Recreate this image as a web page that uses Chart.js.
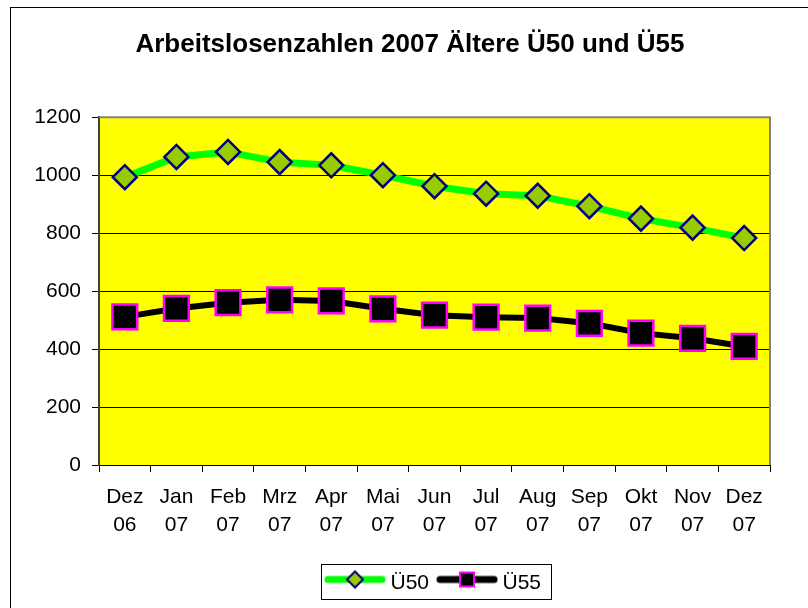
<!DOCTYPE html>
<html>
<head>
<meta charset="utf-8">
<script src="https://cdn.jsdelivr.net/npm/chart.js@4.4.1/dist/chart.umd.min.js"></script>
<style>
html,body{margin:0;padding:0;background:#fff;}
#wrap{width:808px;height:608px;position:relative;}
</style>
</head>
<body>
<div id="wrap"><canvas id="c"></canvas></div>
<script>
const categories = [["Dez","06"],["Jan","07"],["Feb","07"],["Mrz","07"],["Apr","07"],["Mai","07"],["Jun","07"],["Jul","07"],["Aug","07"],["Sep","07"],["Okt","07"],["Nov","07"],["Dez","07"]];
const seriesU50 = [993, 1063, 1080, 1045, 1034, 1000, 962, 936, 929, 893, 850, 819, 783];
const seriesU55 = [511, 540, 560, 570, 566, 539, 517, 510, 507, 489, 455, 437, 409];
const seriesNames = ["Ü50", "Ü55"];
const titleText = "Arbeitslosenzahlen 2007 Ältere Ü50 und Ü55";
const yTicks = [0, 200, 400, 600, 800, 1000, 1200];

const FONT = "Arial, 'Liberation Sans', sans-serif";

function legendImage(lineColor, marker) {
  const cv = document.createElement('canvas');
  cv.width = 62; cv.height = 28;
  const g = cv.getContext('2d');
  const cy = 10;
  g.lineCap = 'round';
  g.strokeStyle = lineColor;
  g.lineWidth = 7;
  g.beginPath(); g.moveTo(4, cy); g.lineTo(58, cy); g.stroke();
  g.lineWidth = 2;
  if (marker === 'diamond') {
    g.fillStyle = '#99CC00'; g.strokeStyle = '#000080';
    g.beginPath();
    g.moveTo(31, cy - 8); g.lineTo(39, cy); g.lineTo(31, cy + 8); g.lineTo(23, cy); g.closePath();
    g.fill(); g.stroke();
  } else {
    g.fillStyle = '#000000'; g.strokeStyle = '#FF00FF';
    g.fillRect(24, cy - 7, 14, 14);
    g.strokeRect(24, cy - 7, 14, 14);
  }
  return cv;
}
const imgU50 = legendImage('#00FF00', 'diamond');
const imgU55 = legendImage('#000000', 'square');

const framePlugin = {
  id: 'framePlugin',
  beforeDraw(chart) {
    const {ctx, chartArea: a} = chart;
    ctx.save();
    ctx.fillStyle = '#FFFFFF';
    ctx.fillRect(0, 0, chart.width, chart.height);
    ctx.strokeStyle = '#000000';
    ctx.lineWidth = 1;
    ctx.strokeRect(10.5, 7.5, 1000, 1000);
    ctx.fillStyle = '#FFFF00';
    ctx.fillRect(a.left, a.top, a.right - a.left, a.bottom - a.top);
    ctx.restore();
  },
  beforeDatasetsDraw(chart) {
    const {ctx, chartArea: a} = chart;
    ctx.save();
    ctx.strokeStyle = '#808080';
    ctx.lineWidth = 2;
    ctx.beginPath();
    ctx.moveTo(a.left, a.top);
    ctx.lineTo(a.right, a.top);
    ctx.lineTo(a.right, a.bottom);
    ctx.stroke();
    ctx.restore();
  },
  afterLayout(chart) {
    const lg = chart.legend;
    if (lg && lg.lineWidths) {
      const pad = lg.options.labels.padding;
      const cur = (lg.left + pad + lg.right - lg.lineWidths[0]) / 2;
      const dx = 330 - cur;
      lg.left += dx; lg.right += dx;
    }
    const tb = chart.titleBlock;
    if (tb) {
      const dx = 410 - (tb.left + tb.right) / 2;
      tb.left += dx; tb.right += dx;
    }
  },
  afterDraw(chart) {
    const lg = chart.legend;
    if (!lg || !lg.legendHitBoxes || !lg.legendHitBoxes.length) return;
    const hb = lg.legendHitBoxes;
    const first = hb[0], last = hb[hb.length - 1];
    const {ctx} = chart;
    ctx.save();
    ctx.strokeStyle = '#000000';
    ctx.lineWidth = 1;
    const l = Math.round(first.left - 9) + 0.5;
    const r = Math.round(last.left + last.width + 10) + 0.5;
    const t = Math.round(first.top - 9) + 0.5;
    const b = Math.round(first.top + first.height + 5) + 0.5;
    ctx.strokeRect(l, t, r - l, b - t);
    ctx.restore();
  }
};

new Chart(document.getElementById('c'), {
  type: 'line',
  data: {
    labels: categories,
    datasets: [
      {
        label: seriesNames[0],
        data: seriesU50,
        borderColor: '#00FF00',
        borderWidth: 7,
        tension: 0,
        pointStyle: 'rectRot',
        pointRadius: 12,
        pointHoverRadius: 12,
        pointBackgroundColor: '#99CC00',
        pointBorderColor: '#000080',
        pointBorderWidth: 2.5
      },
      {
        label: seriesNames[1],
        data: seriesU55,
        borderColor: '#000000',
        borderWidth: 6,
        tension: 0,
        pointStyle: 'rect',
        pointRadius: 17.5,
        pointHoverRadius: 17.5,
        pointBackgroundColor: '#000000',
        pointBorderColor: '#FF00FF',
        pointBorderWidth: 2.5
      }
    ]
  },
  options: {
    responsive: true,
    maintainAspectRatio: false,
    animation: false,
    events: [],
    layout: { padding: { left: 0, right: 38, top: 0, bottom: 4 } },
    plugins: {
      title: {
        display: true,
        text: titleText,
        color: '#000000',
        font: { family: FONT, size: 26, weight: 'bold' },
        padding: { top: 29, bottom: 57 }
      },
      legend: {
        display: true,
        position: 'bottom',
        align: 'center',
        labels: {
          color: '#000000',
          font: { family: FONT, size: 21 },
          padding: 13,
          usePointStyle: true,
          pointStyleWidth: 50,
          generateLabels(chart) {
            return chart.data.datasets.map((ds, i) => ({
              text: ds.label,
              pointStyle: i === 0 ? imgU50 : imgU55,
              fillStyle: ds.borderColor,
              strokeStyle: ds.borderColor,
              lineWidth: 0,
              hidden: false,
              datasetIndex: i
            }));
          }
        }
      },
      tooltip: { enabled: false }
    },
    scales: {
      x: {
        type: 'category',
        offset: true,
        afterFit(s) { s.height = 95; },
        grid: {
          display: true,
          drawOnChartArea: false,
          drawTicks: true,
          tickLength: 7,
          color: '#000000',
          offset: true
        },
        border: { display: true, color: '#000000', width: 1 },
        ticks: {
          color: '#000000',
          font: { family: FONT, size: 21, lineHeight: 1.35 },
          padding: 11,
          maxRotation: 0,
          minRotation: 0,
          autoSkip: false
        }
      },
      y: {
        min: 0,
        max: 1200,
        afterFit(s) { s.width = 99; },
        afterBuildTicks(s) { s.ticks = yTicks.map(v => ({ value: v })); },
        grid: {
          color: '#000000',
          lineWidth: 1,
          tickLength: 7,
          drawTicks: true
        },
        border: { display: true, color: '#404040', width: 2 },
        ticks: {
          color: '#000000',
          font: { family: FONT, size: 21 },
          padding: 11,
          callback(v) { return String(v); }
        }
      }
    }
  },
  plugins: [framePlugin]
});
</script>
</body>
</html>
